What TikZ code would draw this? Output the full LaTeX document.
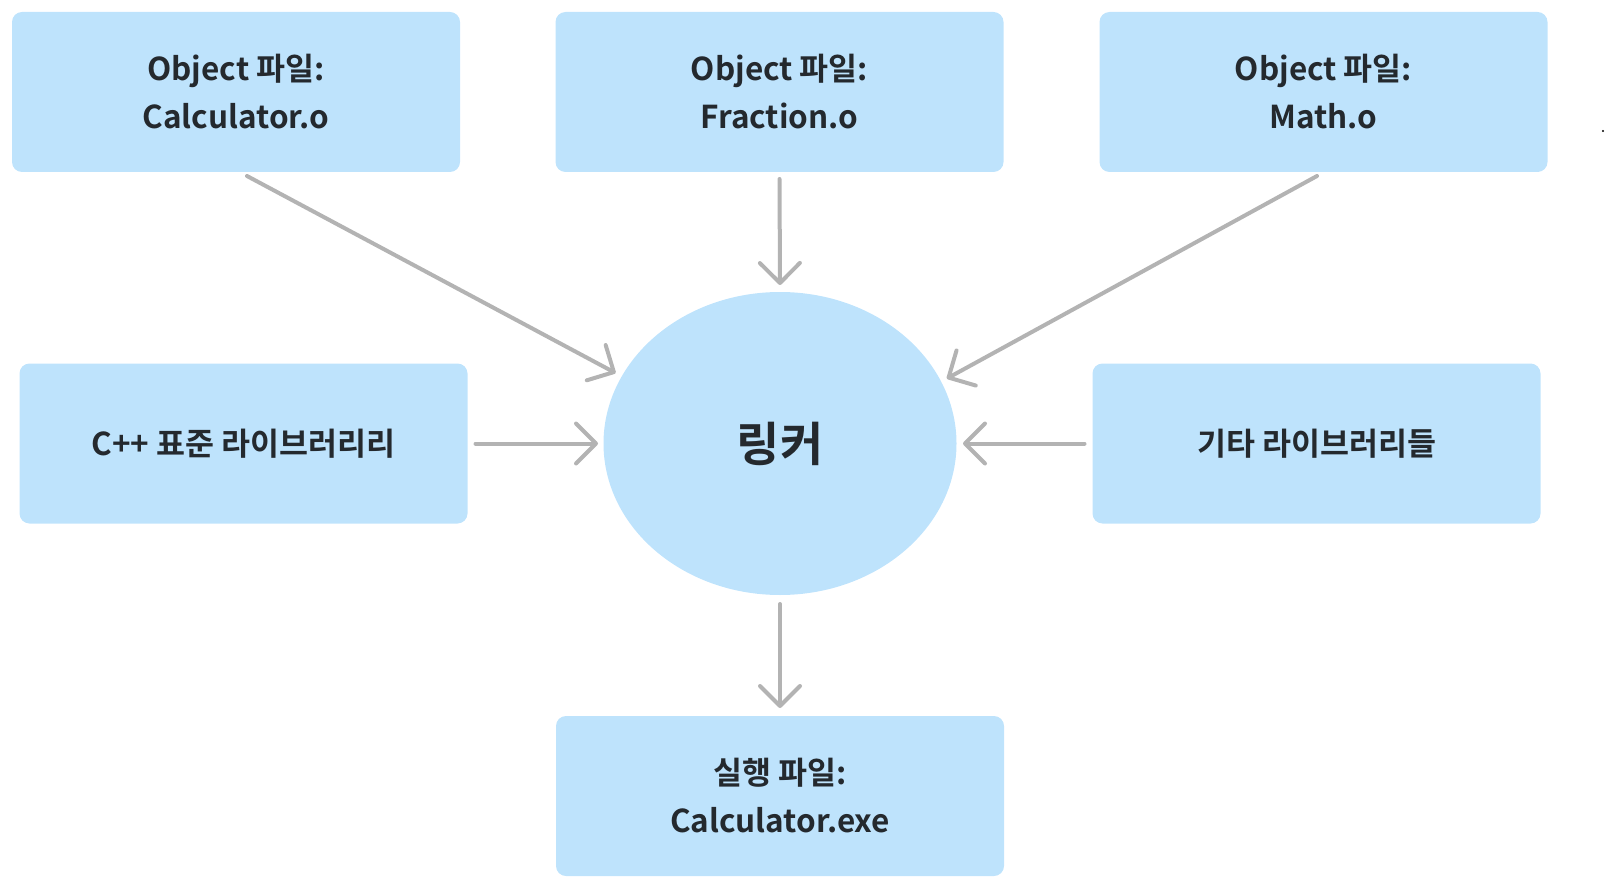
\documentclass[tikz,border=0pt]{standalone}
\usepackage{fontspec}
\setmainfont{Noto Sans CJK KR}[BoldFont={Noto Sans CJK KR Bold}]
\usetikzlibrary{arrows.meta,shapes.geometric}
\definecolor{boxfill}{HTML}{BEE3FC}
\definecolor{txt}{HTML}{24292E}
\definecolor{arrgray}{HTML}{B3B3B3}
\tikzset{
  box/.style={rectangle, rounded corners=10pt, fill=boxfill, draw=none, inner sep=0pt, outer sep=0pt,
    minimum width=448pt, minimum height=160pt, align=center, text=txt,
    font=\fontsize{31.5}{48}\selectfont\bfseries},
  linker/.style={ellipse, fill=boxfill, draw=none, inner sep=0pt, outer sep=0pt,
    minimum width=353pt, minimum height=303pt, text=txt, font=\fontsize{47}{50}\selectfont\bfseries},
  arr/.style={draw=arrgray, line width=4pt, line cap=round,
    -{Straight Barb[length=20pt,width=40pt,line cap=round,line join=round]}}
}
\begin{document}
\begin{tikzpicture}[x=1pt,y=-1pt]
\useasboundingbox (0,0) rectangle (1605,885);
\node[box] (tl) at (236,92) {Object 파일:\\Calculator.o};
\node[box] (tm) at (779.5,92) {Object 파일:\\Fraction.o};
\node[box] (tr) at (1323.5,92) {Object 파일:\\Math.o};
\node[box] (ml) at (243.5,443.5) {C++ 표준 라이브러리리};
\node[box] (mr) at (1316.5,443.5) {기타 라이브러리들};
\node[box] (bt) at (780,796) {실행 파일:\\Calculator.exe};
\node[linker] (lk) at (780,443.5) {링커};
\draw[arr, shorten >=7pt] ([xshift=11pt,yshift=-4pt]tl.south) -- (lk.157.9);
\draw[arr, shorten <=7pt, shorten >=7pt] (tm.south) -- (lk.north);
\draw[arr, shorten >=6.5pt] ([xshift=-6.5pt,yshift=-4pt]tr.south) -- (lk.21);
\draw[arr, shorten <=8pt, shorten >=5.5pt] (ml.east) -- (lk.west);
\draw[arr, shorten <=8pt, shorten >=6.5pt] (mr.west) -- (lk.east);
\draw[arr, shorten <=9pt, shorten >=8pt] (lk.south) -- (bt.north);
\fill[black] (1603,131) circle (1.2pt);
\end{tikzpicture}
\end{document}
